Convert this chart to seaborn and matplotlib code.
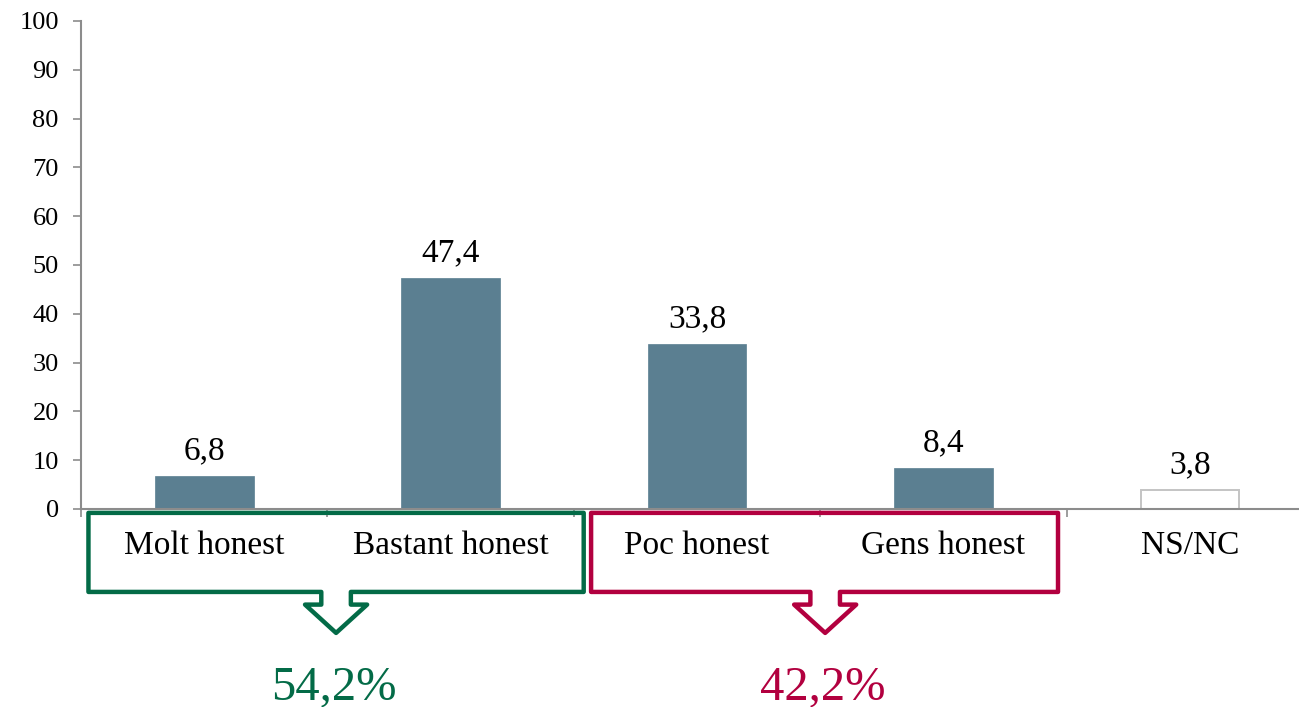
import numpy as np
import pandas as pd
import matplotlib
matplotlib.use("Agg")
import matplotlib.pyplot as plt
from matplotlib.patches import Polygon
import seaborn as sns

# -------------------------------------
# Data
# -------------------------------------
categories = ["Molt honest", "Bastant honest", "Poc honest", "Gens honest", "NS/NC"]
values = [6.8, 47.4, 33.8, 8.4, 3.8]
value_labels = ["6,8", "47,4", "33,8", "8,4", "3,8"]

group_labels = ["54,2%", "42,2%"]
group_colors = ["#036B47", "#B2003F"]

bar_color = "#5B7F91"
axis_color = "#8C8C8C"

df = pd.DataFrame({"cat": categories, "val": values})

# -------------------------------------
# Style
# -------------------------------------
sns.set_style("white")
plt.rcParams["font.family"] = ["Liberation Serif", "DejaVu Serif"]
plt.rcParams["text.color"] = "black"
plt.rcParams["xtick.color"] = "black"
plt.rcParams["ytick.color"] = "black"

fig = plt.figure(figsize=(12.99, 7.07), dpi=100)
ax = fig.add_axes([0.0624, 0.2801, 0.9484, 0.6902])

sns.barplot(
    data=df, x="cat", y="val", hue="cat",
    palette=[bar_color] * 4 + ["white"],
    width=0.4, legend=False, ax=ax, saturation=1
)
for i, p in enumerate(ax.patches):
    if categories[i] == "NS/NC":
        p.set_edgecolor("#C4C4C4")
        p.set_linewidth(1.4)
    else:
        p.set_edgecolor(bar_color)
        p.set_linewidth(0.5)

ax.set_xlim(-0.5, 4.5)
ax.set_ylim(0, 100)
ax.set_yticks(range(0, 101, 10))
ax.tick_params(axis="y", left=True, labelsize=19, length=6, width=1.2,
               color=axis_color, labelcolor="black", pad=10)

# category boundary ticks, labels drawn as text
ax.set_xticks(np.arange(-0.5, 4.0, 1.0))
ax.set_xticklabels([])
ax.tick_params(axis="x", bottom=True, length=6, width=1.2, color=axis_color)
ax.set_xlabel("")
ax.set_ylabel("")

for side in ["top", "right"]:
    ax.spines[side].set_visible(False)
for side in ["left", "bottom"]:
    ax.spines[side].set_color(axis_color)
    ax.spines[side].set_linewidth(1.5)

# value labels
for i, v in enumerate(values):
    ax.annotate(value_labels[i], (i, v), xytext=(0, 7), textcoords="offset points",
                ha="center", va="bottom", fontsize=24, color="black")

# category labels
for i, c in enumerate(categories):
    ax.text(i, -7.6, c, ha="center", va="center", fontsize=24,
            color="black", clip_on=False)

# -------------------------------------
# Group boxes with arrows
# -------------------------------------
def group_box(x0, x1, xc, color):
    top, bottom, neck, tip = -0.8, -17.0, -19.6, -25.4
    sw, hw = 0.06, 0.126
    pts = [
        (xc - sw, bottom), (x0, bottom), (x0, top), (x1, top), (x1, bottom),
        (xc + sw, bottom), (xc + sw, neck), (xc + hw, neck), (xc, tip),
        (xc - hw, neck), (xc - sw, neck),
    ]
    poly = Polygon(pts, closed=True, fill=False, edgecolor=color,
                   linewidth=3.2, joinstyle="round", clip_on=False)
    ax.add_patch(poly)

box_edges = [(-0.47, 1.54, 0.535), (1.57, 3.465, 2.52)]
for (x0, x1, xc), col, lab in zip(box_edges, group_colors, group_labels):
    group_box(x0, x1, xc, col)
    ax.text(xc - 0.01, -36.5, lab, ha="center", va="center", fontsize=35,
            color=col, clip_on=False)

plt.savefig("out.png", dpi=100)
